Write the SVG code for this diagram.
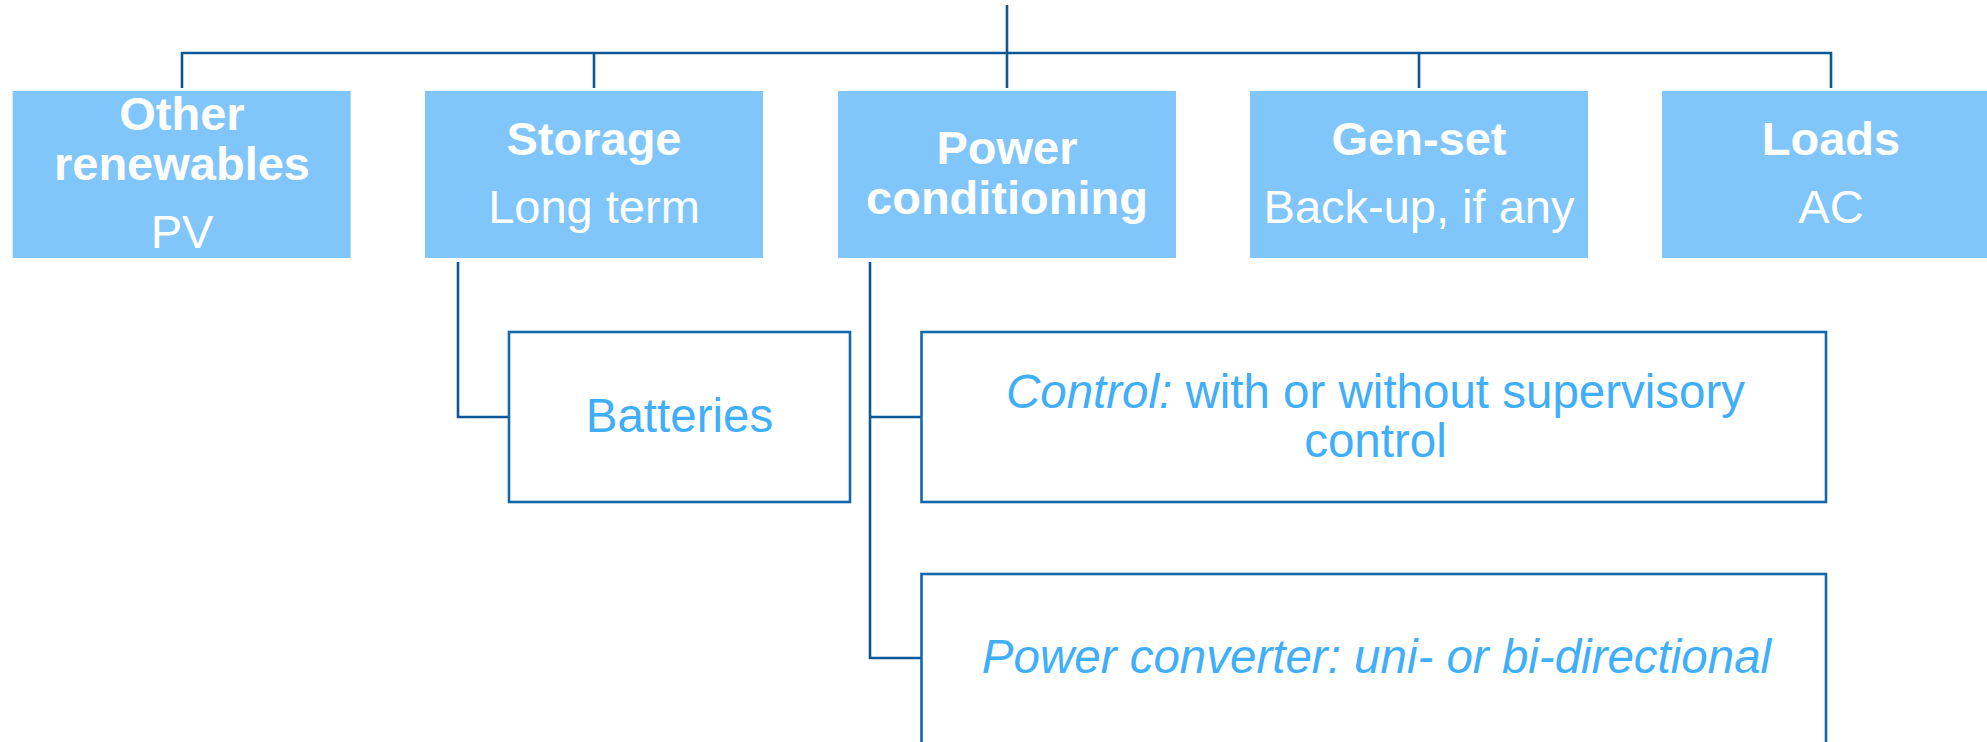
<svg xmlns="http://www.w3.org/2000/svg" width="1987" height="742" viewBox="0 0 1987 742">
<style>
.top{fill:#80C6FB;}
.sub{fill:#FFFFFF;stroke:#1468AC;stroke-width:2.6;}
.wire{fill:none;stroke:#0E5796;stroke-width:2.6;}
.tb{font-family:"Liberation Sans",Arial,sans-serif;font-size:47px;font-weight:bold;fill:#FFFFFF;text-anchor:middle;}
.tn{font-family:"Liberation Sans",Arial,sans-serif;font-size:47px;fill:#FFFFFF;text-anchor:middle;}
.st{font-family:"Liberation Sans",Arial,sans-serif;font-size:47.5px;fill:#40AEF8;text-anchor:middle;}
</style>
<rect width="1987" height="742" fill="#FFFFFF"/>
<g id="connectors">
<path class="wire" d="M1007 5V53M182 88V53H1831V88M594 53V88M1007 53V88M1419 53V88"/>
<path class="wire" d="M458 262V417H509"/>
<path class="wire" d="M870 262V658H921M870 417H921"/>
</g>
<g id="other-renewables">
<rect class="top" x="12.7" y="91" width="338" height="167"/>
<text class="tb" x="182" y="130">Other</text>
<text class="tb" x="182" y="180">renewables</text>
<text class="tn" x="182" y="248">PV</text>
</g>
<g id="storage">
<rect class="top" x="425" y="91" width="338" height="167"/>
<text class="tb" x="594" y="155">Storage</text>
<text class="tn" x="594" y="223">Long term</text>
</g>
<g id="power-conditioning">
<rect class="top" x="838" y="91" width="338" height="167"/>
<text class="tb" x="1007" y="164">Power</text>
<text class="tb" x="1007" y="214">conditioning</text>
</g>
<g id="gen-set">
<rect class="top" x="1250" y="91" width="338" height="167"/>
<text class="tb" x="1419" y="155">Gen-set</text>
<text class="tn" x="1419" y="223">Back-up, if any</text>
</g>
<g id="loads">
<rect class="top" x="1662" y="91" width="338" height="167"/>
<text class="tb" x="1831" y="155">Loads</text>
<text class="tn" x="1831" y="223">AC</text>
</g>
<g id="batteries">
<rect class="sub" x="509" y="332" width="341" height="170"/>
<text class="st" x="679.5" y="431.5">Batteries</text>
</g>
<g id="control">
<rect class="sub" x="921.5" y="332" width="904.5" height="170"/>
<text class="st" x="1375.5" y="407.5"><tspan font-style="italic">Control:</tspan> with or without supervisory</text>
<text class="st" x="1375.5" y="456.5">control</text>
</g>
<g id="power-converter">
<rect class="sub" x="921.5" y="574" width="904.5" height="200"/>
<text class="st" x="1376.5" y="672.5" font-style="italic">Power converter: uni- or bi-directional</text>
</g>
</svg>
